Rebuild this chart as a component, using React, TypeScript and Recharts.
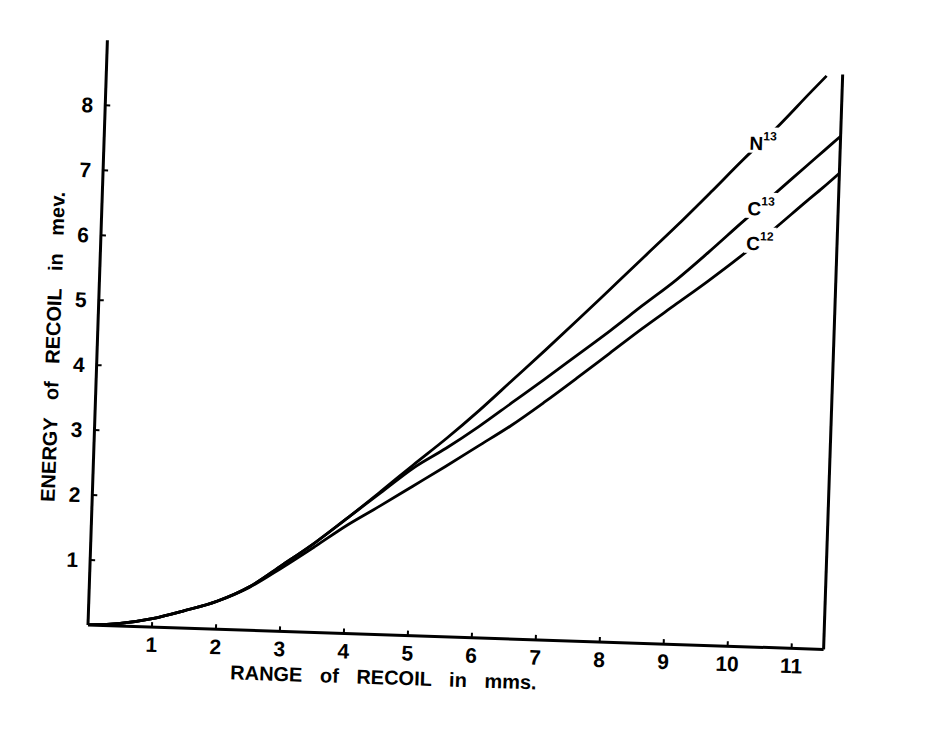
import React from 'react';
import { LineChart, Line, XAxis, YAxis, ReferenceLine, ReferenceDot } from 'recharts';

// range of recoil (mm) and energy of recoil (MeV)
const ranges = [0, 0.5, 1, 1.5, 2, 2.5, 3, 3.5, 4, 4.5, 5, 5.5, 6, 6.5, 7, 7.5, 8, 8.5, 9, 9.5, 10, 10.5, 11, 11.25, 11.5];
const energyN13 = [0, 0.04, 0.13, 0.27, 0.43, 0.67, 1.02, 1.38, 1.78, 2.2, 2.63, 3.05, 3.5, 3.98, 4.46, 4.95, 5.45, 5.95, 6.45, 6.97, 7.5, 8.0, 8.55, 8.82, null];
const energyC13 = [0, 0.04, 0.13, 0.27, 0.43, 0.67, 1.02, 1.38, 1.78, 2.18, 2.58, 2.9, 3.25, 3.63, 4.01, 4.4, 4.79, 5.2, 5.6, 6.05, 6.52, 6.98, 7.44, 7.67, 7.9];
const energyC12 = [0, 0.04, 0.13, 0.27, 0.43, 0.66, 0.98, 1.32, 1.67, 1.98, 2.3, 2.62, 2.95, 3.28, 3.65, 4.04, 4.44, 4.84, 5.22, 5.6, 6.0, 6.43, 6.88, 7.1, 7.33];

const xTicks = [1, 2, 3, 4, 5, 6, 7, 8, 9, 10, 11];
const yTicks = [1, 2, 3, 4, 5, 6, 7, 8];
const rightTicks = [1, 1.5, 2, 3, 4, 5, 6, 7, 8];
const rightTop = 8.85;

const curves = [
  { key: 'n13', symbol: 'N', mass: '13', values: energyN13 },
  { key: 'c13', symbol: 'C', mass: '13', values: energyC13 },
  { key: 'c12', symbol: 'C', mass: '12', values: energyC12 },
];
const labelAt = 10.3;

const data = ranges.map((r, i) => ({
  range: r,
  n13: energyN13[i],
  c13: energyC13[i],
  c12: energyC12[i],
}));

const FONT = '"Liberation Sans", Arial, sans-serif';

// linear read of a series at x, only used to sit the curve labels on their line
function valueAt(values: (number | null)[], x: number) {
  for (let i = 0; i < ranges.length - 1; i++) {
    const a = values[i], b = values[i + 1];
    if (a == null || b == null) continue;
    if (x >= ranges[i] && x <= ranges[i + 1]) {
      const t = (x - ranges[i]) / (ranges[i + 1] - ranges[i]);
      return a + t * (b - a);
    }
  }
  return 0;
}

function CurveTag({ cx, cy, symbol, mass }: any) {
  return (
    <g>
      <rect x={cx - 16} y={cy - 13} width={32} height={26} fill="#fff" />
      <text x={cx - 14} y={cy + 10} fontFamily={FONT} fontWeight={700} fontSize={19} fill="#000">
        {symbol}
        <tspan dy={-10} fontSize={12}>{mass}</tspan>
      </text>
    </g>
  );
}

export default function App() {
  const tickStyle = { fill: '#000', fontSize: 21, fontWeight: 700, fontFamily: FONT };
  const axisStyle = { stroke: '#000', strokeWidth: 3 };
  const tickLineStyle = { stroke: '#000', strokeWidth: 2 };

  return (
    <div style={{ position: 'fixed', left: 0, top: 0, width: 932, height: 733, background: '#fff', overflow: 'hidden' }}>
      <div style={{ position: 'absolute', left: 0, top: 0, width: 932, height: 733, transform: 'rotate(1.9deg)', transformOrigin: '88px 625px' }}>
        <LineChart width={932} height={733} data={data} margin={{ top: 40, right: 108, bottom: 78, left: 28 }}>
          <XAxis
            dataKey="range"
            type="number"
            domain={[0, 11.5]}
            ticks={xTicks}
            allowDataOverflow
            height={30}
            tick={tickStyle}
            tickSize={-5}
            tickMargin={15}
            axisLine={axisStyle}
            tickLine={tickLineStyle}
          />
          <YAxis
            type="number"
            domain={[0, 9]}
            ticks={yTicks}
            allowDataOverflow
            width={60}
            tick={tickStyle}
            tickSize={-5}
            tickMargin={17}
            axisLine={axisStyle}
            tickLine={tickLineStyle}
          />
          <YAxis
            yAxisId="r"
            orientation="right"
            type="number"
            domain={[0, 9]}
            ticks={rightTicks}
            width={0}
            tick={false}
            tickSize={-5}
            axisLine={false}
            tickLine={tickLineStyle}
          />
          <ReferenceLine
            segment={[{ x: 11.5, y: 0 }, { x: 11.5, y: rightTop }]}
            stroke="#000"
            strokeWidth={3}
            ifOverflow="visible"
          />
          {curves.map(c => (
            <Line
              key={c.key}
              type="monotone"
              dataKey={c.key}
              stroke="#000"
              strokeWidth={2.8}
              dot={false}
              activeDot={false}
              isAnimationActive={false}
            />
          ))}
          {curves.map(c => (
            <ReferenceDot
              key={c.key + '-tag'}
              x={labelAt}
              y={valueAt(c.values, labelAt)}
              r={0}
              ifOverflow="visible"
              shape={(p: any) => <CurveTag cx={p.cx} cy={p.cy} symbol={c.symbol} mass={c.mass} />}
            />
          ))}
        </LineChart>
        <div
          style={{
            position: 'absolute', left: 385, top: 668, transform: 'translate(-50%, -50%)',
            fontFamily: FONT, fontWeight: 700, fontSize: 20, wordSpacing: 12, whiteSpace: 'nowrap', color: '#000',
          }}
        >
          RANGE of RECOIL in mms.
        </div>
        <div
          style={{
            position: 'absolute', left: 44, top: 348, transform: 'translate(-50%, -50%) rotate(-90deg)',
            fontFamily: FONT, fontWeight: 700, fontSize: 20, wordSpacing: 12, whiteSpace: 'nowrap', color: '#000',
          }}
        >
          ENERGY of RECOIL in mev.
        </div>
      </div>
    </div>
  );
}
